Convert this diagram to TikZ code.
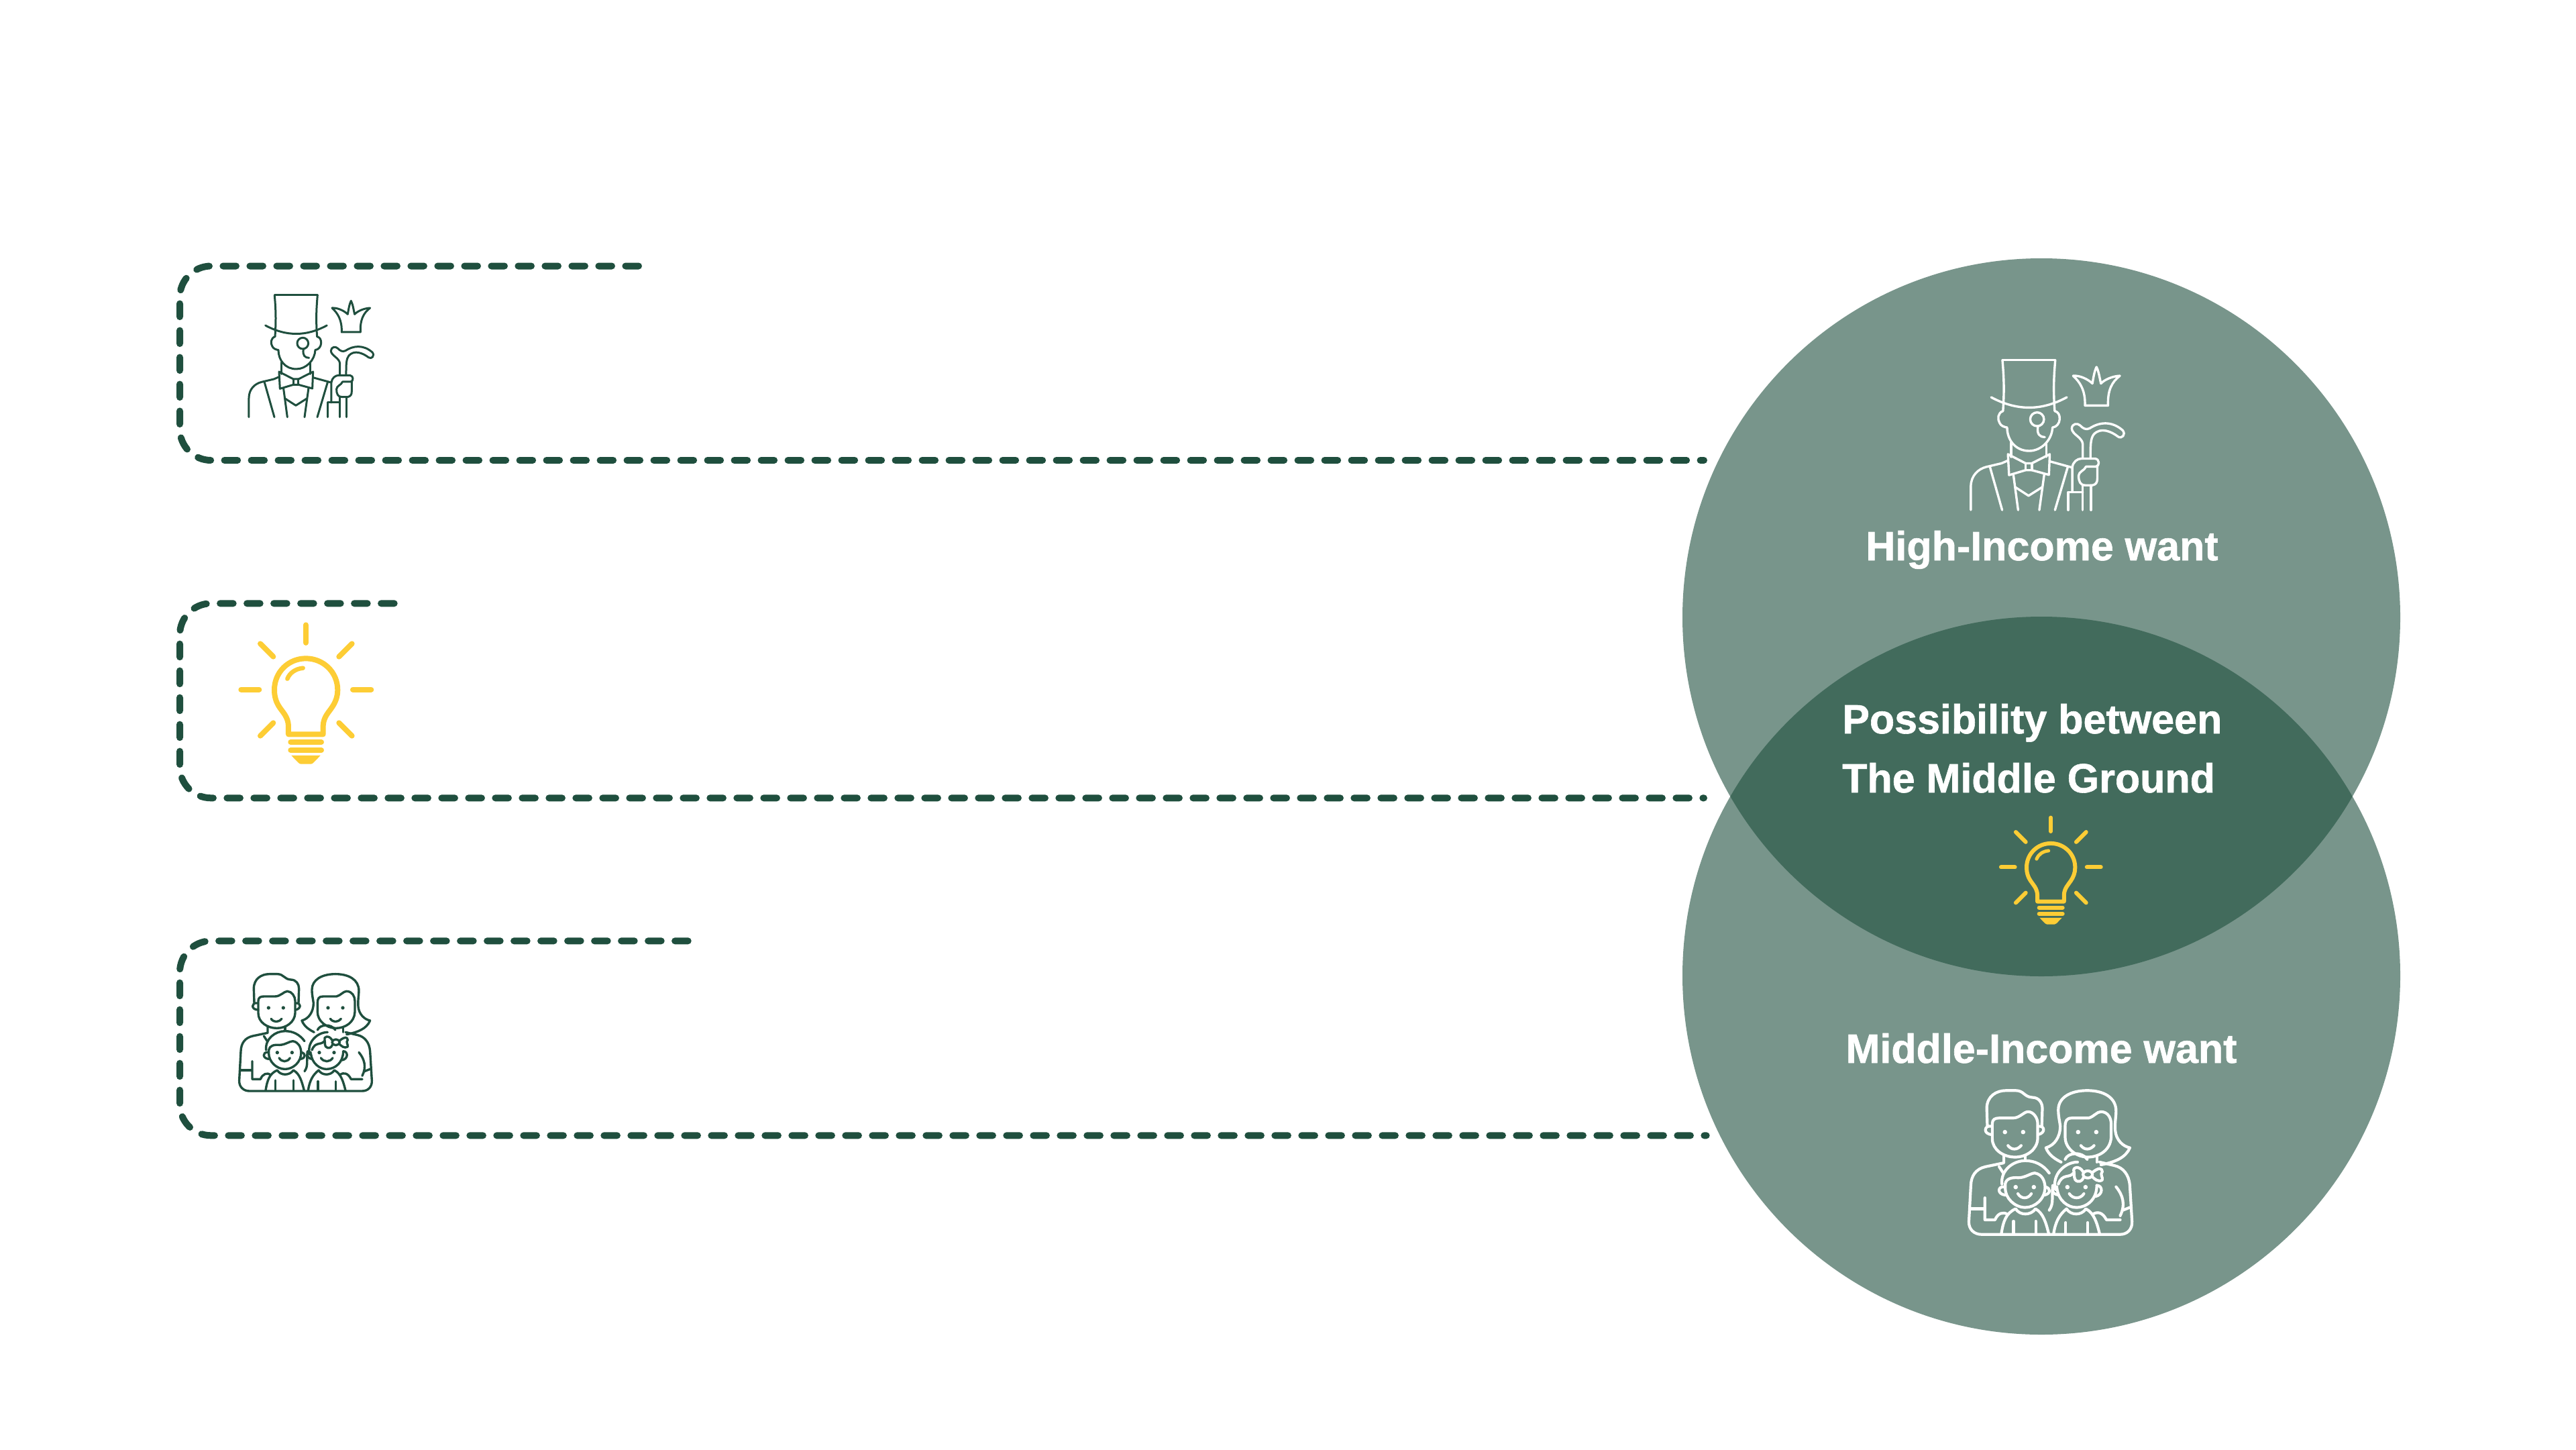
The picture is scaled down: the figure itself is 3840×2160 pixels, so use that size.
\documentclass[tikz,border=0pt]{standalone}
\usepackage{fontspec}
\setmainfont[BoldFeatures={FakeBold=1}]{Liberation Sans}
\definecolor{dgreen}{HTML}{1F4F3E}
\definecolor{bulby}{HTML}{FDCD35}
\tikzset{
  venn/.style={fill=dgreen,fill opacity=.6,draw=none},
  route/.style={draw=dgreen,line width=10pt,line cap=round,dash pattern=on 19.6pt off 20.4pt,rounded corners=46.6pt},
  vlabel/.style={text=white,font=\fontsize{61}{61}\selectfont\bfseries,inner sep=0pt,anchor=base},
  iconline/.style={line cap=round,line join=round,fill=none},
}
\newcommand{\manicon}{%
  \draw (508,210) -- (700,210);
  \draw (508,210) .. controls (512,260) and (516,310) .. (510,395);
  \draw (700,210) .. controls (696,260) and (692,310) .. (698,395);
  \draw (467,345) .. controls (560,395) and (650,395) .. (742,345);
  \draw (510,395) .. controls (490,402) and (490,425) .. (497,437) .. controls (502,450) and (515,453) .. (525,455)
     .. controls (525,500) and (555,540) .. (605,540) .. controls (650,540) and (688,500) .. (690,455)
     .. controls (705,453) and (715,440) .. (716,425) .. controls (717,408) and (710,398) .. (698,395);
  \draw (634,425) circle (25);
  \draw (637,452) .. controls (632,480) and (645,490) .. (662,490);
  \draw (540,510) -- (540,562);
  \draw (668,510) -- (668,562);
  \draw (528,552) -- (592,585) -- (615,585) -- (680,552) -- (677,627) -- (615,610) -- (592,610) -- (532,628) -- cycle;
  \draw (592,585) -- (592,610) (615,585) -- (615,610);
  \draw (393,755) -- (393,670) .. controls (393,630) and (420,605) .. (450,598) -- (505,585) -- (528,575);
  \draw (680,578) -- (760,600);
  \draw (463,600) -- (507,755);
  \draw (745,600) -- (699,755);
  \draw (548,628) -- (565,755);
  \draw (660,625) -- (642,755);
  \draw (555,672) -- (603,703) -- (652,672);
  \draw (762,690) -- (762,600) .. controls (764,580) and (780,568) .. (795,568) -- (845,568)
     .. controls (862,570) and (862,595) .. (848,597) -- (812,597) .. controls (806,612) and (785,615) .. (785,630)
     .. controls (785,650) and (790,665) .. (810,665) -- (835,665) .. controls (850,662) and (853,652) .. (853,640) -- (853,597);
  \draw (747,755) -- (747,690) -- (800,690);
  \draw (800,665) -- (800,755);
  \draw (830,665) -- (830,755);
  \draw (800,568) -- (800,515) .. controls (798,490) and (760,480) .. (760,458)
     .. controls (762,440) and (780,438) .. (790,447) .. controls (800,458) and (812,465) .. (825,458)
     .. controls (860,435) and (905,430) .. (945,465) .. controls (958,480) and (942,498) .. (928,488)
     .. controls (905,470) and (865,452) .. (840,480) .. controls (828,495) and (828,520) .. (828,568);
  \draw (765,267) .. controls (790,265) and (820,280) .. (835,295) .. controls (838,278) and (842,250) .. (850,235)
     .. controls (858,250) and (862,278) .. (866,295) .. controls (880,280) and (910,268) .. (935,267)
     .. controls (905,290) and (890,320) .. (892,375) -- (808,375) .. controls (810,320) and (790,290) .. (765,267) -- cycle;
}
\newcommand{\bulbicon}[2]{%
  \draw[line width=#1] (408,94) -- (408,174);
  \draw[line width=#1] (118,383) -- (199,383);
  \draw[line width=#1] (618,383) -- (700,383);
  \draw[line width=#1] (204,178) -- (262,236);
  \draw[line width=#1] (614,178) -- (556,236);
  \draw[line width=#1] (204,590) -- (262,532);
  \draw[line width=#1] (614,590) -- (556,532);
  \draw[line width=#1] (330,583) -- (330,545) .. controls (328,505) and (305,485) .. (290,462)
     .. controls (275,440) and (267,415) .. (267,385) .. controls (267,305) and (330,244) .. (408,244)
     .. controls (486,244) and (550,305) .. (550,385) .. controls (550,415) and (540,440) .. (525,462)
     .. controls (510,485) and (487,505) .. (485,545) -- (485,583) -- cycle;
  \draw[line width=#2] (325,335) .. controls (335,310) and (360,290) .. (395,287);
  \draw[line width=#1] (340,618) -- (477,618);
  \draw[line width=#1] (340,654) -- (477,654);
  \fill (343,678) -- (473,678) -- (442,710) .. controls (438,714) and (434,716) .. (430,716) -- (386,716) .. controls (382,716) and (378,714) .. (374,710) -- cycle;
}
\newcommand{\familyicon}{%
  \draw (147,225) -- (145,160) .. controls (145,115) and (180,95) .. (215,95) -- (250,95) .. controls (280,95) and (280,118) .. (310,120) .. controls (335,120) and (347,140) .. (347,160) -- (345,225);
  \draw (165,270) -- (165,215) .. controls (165,200) and (175,195) .. (190,195) -- (240,195) .. controls (265,195) and (280,172) .. (295,172) .. controls (315,172) and (330,195) .. (330,215) -- (330,270) .. controls (328,310) and (290,337) .. (248,337) .. controls (205,337) and (165,310) .. (165,270) -- cycle;
  \draw (160,225) .. controls (135,220) and (130,255) .. (165,255);
  \draw (332,225) .. controls (358,222) and (358,250) .. (332,255);
  \fill (211,246) circle (8) (277,246) circle (8) (477,246) circle (8) (543,246) circle (8);
  \draw (222,295) .. controls (235,312) and (255,312) .. (270,295);
  \draw (415,355) .. controls (395,345) and (370,330) .. (360,303) .. controls (390,295) and (412,265) .. (412,225) .. controls (410,205) and (405,190) .. (405,165) .. controls (405,120) and (450,95) .. (510,95) .. controls (570,95) and (615,120) .. (615,170) .. controls (615,190) and (610,210) .. (612,240) .. controls (615,275) and (640,298) .. (665,303) .. controls (650,340) and (610,355) .. (560,365);
  \draw (430,265) -- (430,225) .. controls (430,205) and (435,195) .. (455,195) -- (515,195) .. controls (535,190) and (545,172) .. (560,172) .. controls (585,172) and (597,195) .. (597,215) -- (597,265) .. controls (595,310) and (555,337) .. (512,337) .. controls (470,337) and (430,305) .. (430,265) -- cycle;
  \draw (487,295) .. controls (500,312) and (520,312) .. (535,295);
  \draw (207,330) -- (207,358) -- (140,372) .. controls (105,380) and (88,405) .. (87,440) -- (80,570) .. controls (78,600) and (100,618) .. (125,618) -- (630,618) .. controls (655,618) and (675,600) .. (673,570) -- (665,440) .. controls (662,400) and (640,375) .. (610,368) -- (555,355);
  \draw (285,335) -- (285,345);
  \draw (545,335) -- (545,355);
  \draw (190,372) -- (205,395);
  \draw (85,525) -- (135,525);
  \draw (138,485) -- (138,565) -- (175,565) .. controls (185,540) and (205,535) .. (220,545);
  \draw (615,445) .. controls (640,475) and (650,510) .. (630,550);
  \draw (630,565) -- (580,565) .. controls (565,535) and (545,535) .. (530,545);
  \draw (665,520) -- (640,530);
  \draw (200,435) .. controls (195,385) and (240,350) .. (285,350) .. controls (320,350) and (350,365) .. (372,395);
  \draw (212,450) -- (212,435) .. controls (215,415) and (235,410) .. (260,412) .. controls (285,412) and (305,395) .. (320,395) .. controls (345,400) and (355,420) .. (357,445) .. controls (357,490) and (320,520) .. (285,520) .. controls (245,520) and (212,485) .. (212,450) -- cycle;
  \draw (208,445) .. controls (183,443) and (183,472) .. (212,475);
  \draw (358,445) .. controls (378,450) and (378,470) .. (355,475);
  \fill (250,446) circle (8) (316,446) circle (8) (438,446) circle (8) (504,446) circle (8);
  \draw (258,470) .. controls (270,490) and (295,490) .. (307,470);
  \draw (198,615) .. controls (205,570) and (215,540) .. (250,525) .. controls (265,550) and (305,550) .. (322,525) .. controls (350,540) and (360,575) .. (370,615);
  \draw (242,570) -- (242,615);
  \draw (323,570) -- (323,615);
  \draw (395,455) .. controls (380,400) and (430,355) .. (475,355);
  \draw (405,435) .. controls (420,395) and (445,415) .. (460,395);
  \draw (545,440) .. controls (545,490) and (510,520) .. (470,520) .. controls (440,520) and (405,495) .. (400,450);
  \draw (430,345) .. controls (440,320) and (490,315) .. (510,345);
  \draw (512,400) ellipse (17 and 13);
  \draw (495,390) .. controls (480,365) and (455,375) .. (462,390) .. controls (465,400) and (458,420) .. (475,425) .. controls (490,428) and (495,415) .. (497,410);
  \draw (530,392) .. controls (550,375) and (565,375) .. (565,390) .. controls (555,400) and (568,410) .. (565,420) .. controls (550,430) and (535,415) .. (528,408);
  \draw (545,440) .. controls (568,440) and (568,475) .. (540,480);
  \draw (400,445) .. controls (378,445) and (378,470) .. (405,475);
  \draw (445,470) .. controls (458,490) and (485,490) .. (498,470);
  \draw (388,615) .. controls (395,570) and (410,545) .. (435,525) .. controls (450,550) and (490,550) .. (505,525) .. controls (535,540) and (545,575) .. (555,615);
  \draw (432,575) -- (432,615);
  \draw (512,575) -- (512,615);
  \draw (385,440) .. controls (380,480) and (390,505) .. (372,530);
}
\begin{document}
\begin{tikzpicture}[x=1pt,y=-1pt]
\useasboundingbox (0,0) rectangle (3840,2160);
\fill[white] (0,0) rectangle (3840,2160);
% circles
\fill[venn] (3043,920) circle (535);
\fill[venn] (3043,1454) circle (535);
% routes
\coordinate (r1s) at (952,396.5); \coordinate (r1a) at (268,396.5); \coordinate (r1b) at (268,686); \coordinate (r1e) at (2540,686);
\coordinate (r2s) at (587.7,899.3); \coordinate (r2a) at (268,899.3); \coordinate (r2b) at (268,1189.3); \coordinate (r2e) at (2540,1189.3);
\coordinate (r3s) at (1025.7,1402.3); \coordinate (r3a) at (268,1402.3); \coordinate (r3b) at (268,1692.3); \coordinate (r3e) at (2543.7,1692.3);
\draw[route] (r1s) -- (r1a) -- (r1b) -- (r1e);
\draw[route] (r2s) -- (r2a) -- (r2b) -- (r2e);
\draw[route] (r3s) -- (r3a) -- (r3b) -- (r3e);
% icons
\begin{scope}[shift={(240,370)},x=0.3333pt,y=-0.3333pt,iconline,draw=dgreen,fill=dgreen,line width=3pt]
\manicon
\end{scope}
\begin{scope}[shift={(2776.7,450.6)},x=0.41pt,y=-0.41pt,iconline,draw=white,line width=3.4pt]
\manicon
\end{scope}
\begin{scope}[shift={(320,900)},x=0.3333pt,y=-0.3333pt,iconline,draw=bulby,color=bulby]
\bulbicon{8pt}{6.5pt}
\end{scope}
\begin{scope}[shift={(2952.7,1194.5)},x=0.2557pt,y=-0.2557pt,iconline,draw=bulby,color=bulby]
\bulbicon{6pt}{5pt}
\end{scope}
\begin{scope}[shift={(330,1420)},x=0.3333pt,y=-0.3333pt,iconline,color=dgreen,line width=3.4pt]
\familyicon
\end{scope}
\begin{scope}[shift={(2902.2,1586.3)},x=0.41pt,y=-0.41pt,iconline,color=white,line width=4.2pt]
\familyicon
\end{scope}
% labels
\node[vlabel] (high) at (3044,835) {High-Income want};
\node[vlabel,anchor=base west] (poss1) at (2746,1093) {Possibility between};
\node[vlabel,anchor=base west] (poss2) at (2746,1181) {The Middle Ground};
\node[vlabel] (mid) at (3043,1584) {Middle-Income want};
\end{tikzpicture}
\end{document}
